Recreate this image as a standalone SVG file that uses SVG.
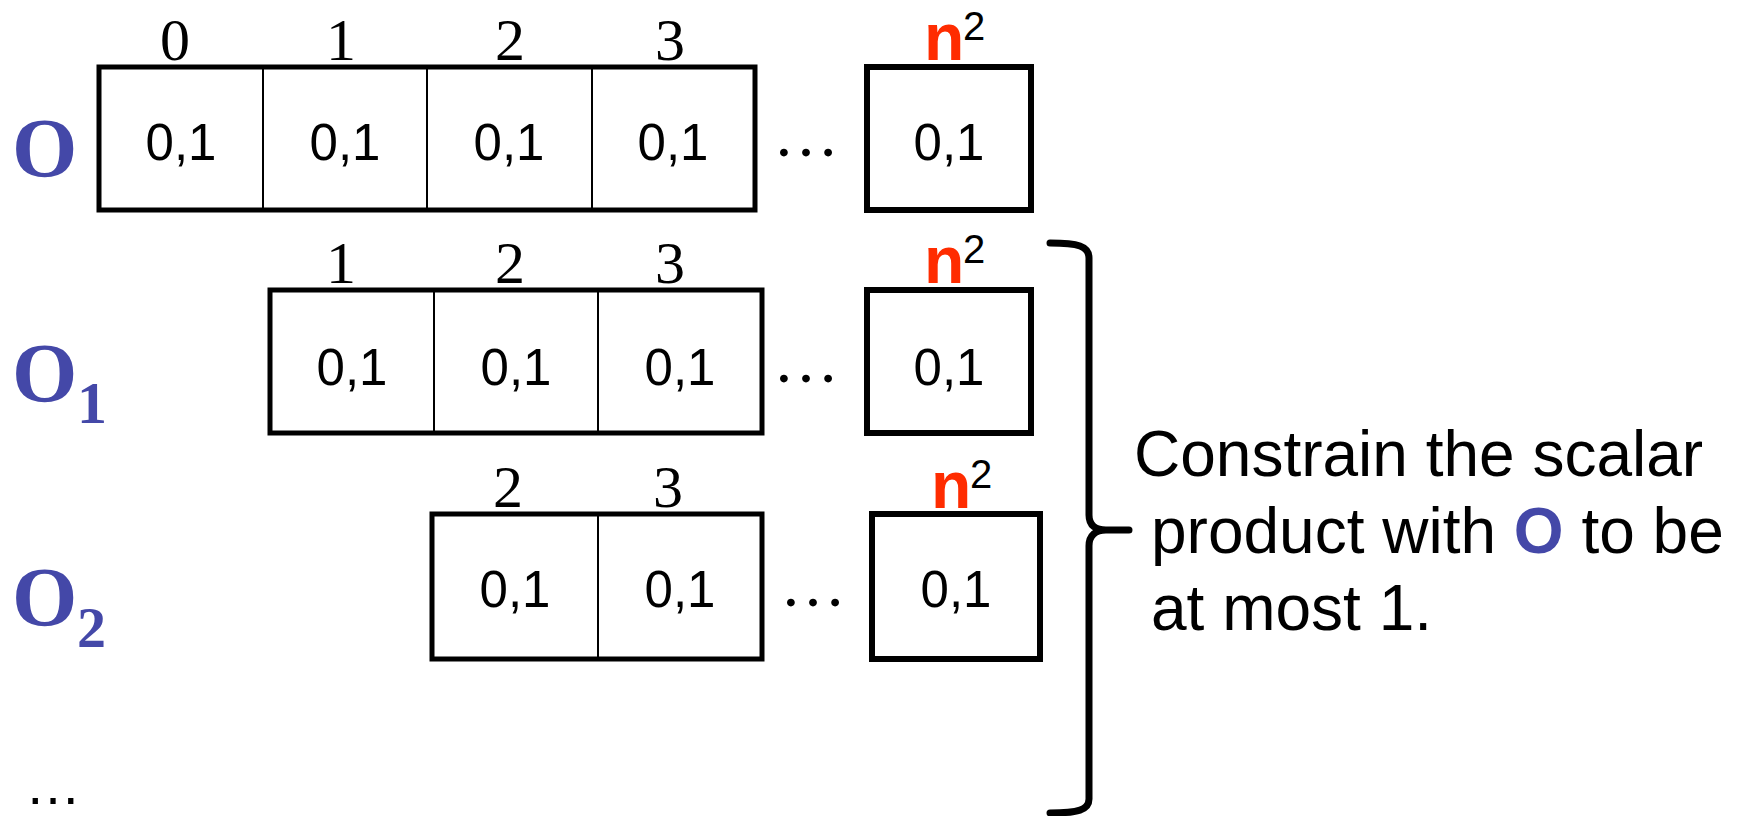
<svg xmlns="http://www.w3.org/2000/svg" width="1740" height="816" viewBox="0 0 1740 816">
  <style>
    .frame { fill: none; stroke: #000; stroke-width: 5; }
    .box { fill: none; stroke: #000; stroke-width: 6; }
    .div { stroke: #000; stroke-width: 2; }
    .val { font-family: "Liberation Sans", Arial, sans-serif; font-size: 51px; fill: #000; text-anchor: middle; }
    .idx { font-family: "Liberation Serif", "Times New Roman", serif; font-size: 60px; fill: #000; text-anchor: middle; }
    .dots { font-family: "Liberation Serif", "Times New Roman", serif; font-size: 66px; fill: #000; text-anchor: middle; }
    .n { font-family: "Liberation Sans", Arial, sans-serif; font-size: 66px; font-weight: bold; fill: #ff2c00; }
    .sup { font-family: "Liberation Sans", Arial, sans-serif; font-size: 40px; fill: #000; }
    .name { font-family: "Liberation Serif", "Times New Roman", serif; font-weight: bold; fill: #4448a8; }
    .note { font-family: "Liberation Sans", Arial, sans-serif; font-size: 64px; fill: #000; }
    .brace { fill: none; stroke: #000; stroke-width: 7; stroke-linecap: round; stroke-linejoin: round; }
  </style>

  <!-- vector O: indices 0..3 ... n^2 -->
  <g id="row-O">
    <text class="name" x="12" y="177" font-size="84">O</text>
    <text class="idx" x="175" y="60">0</text>
    <text class="idx" x="341" y="60">1</text>
    <text class="idx" x="510" y="60">2</text>
    <text class="idx" x="670" y="60">3</text>
    <text x="924" y="60"><tspan class="n">n</tspan><tspan class="sup" x="963" y="40">2</tspan></text>
    <rect class="frame" x="99" y="67" width="656" height="143"/>
    <line class="div" x1="263" y1="67" x2="263" y2="210"/>
    <line class="div" x1="427" y1="67" x2="427" y2="210"/>
    <line class="div" x1="592" y1="67" x2="592" y2="210"/>
    <text class="val" x="181" y="160">0,1</text>
    <text class="val" x="345" y="160">0,1</text>
    <text class="val" x="509" y="160">0,1</text>
    <text class="val" x="673" y="160">0,1</text>
    <text class="dots" x="806" y="156">…</text>
    <rect class="box" x="867" y="67" width="164" height="143"/>
    <text class="val" x="949" y="160">0,1</text>
  </g>

  <!-- shifted copy O1: indices 1..3 ... n^2 -->
  <g id="row-O1">
    <text class="name" x="12" y="402" font-size="84">O<tspan x="77" y="423" font-size="60">1</tspan></text>
    <text class="idx" x="341" y="283">1</text>
    <text class="idx" x="510" y="283">2</text>
    <text class="idx" x="670" y="283">3</text>
    <text x="924" y="283"><tspan class="n">n</tspan><tspan class="sup" x="963" y="263">2</tspan></text>
    <rect class="frame" x="270" y="290" width="492" height="143"/>
    <line class="div" x1="434" y1="290" x2="434" y2="433"/>
    <line class="div" x1="598" y1="290" x2="598" y2="433"/>
    <text class="val" x="352" y="385">0,1</text>
    <text class="val" x="516" y="385">0,1</text>
    <text class="val" x="680" y="385">0,1</text>
    <text class="dots" x="806" y="382">…</text>
    <rect class="box" x="867" y="290" width="164" height="143"/>
    <text class="val" x="949" y="385">0,1</text>
  </g>

  <!-- shifted copy O2: indices 2..3 ... n^2 -->
  <g id="row-O2">
    <text class="name" x="12" y="626" font-size="84">O<tspan x="77" y="647" font-size="58">2</tspan></text>
    <text class="idx" x="508" y="507">2</text>
    <text class="idx" x="668" y="507">3</text>
    <text x="931" y="508"><tspan class="n">n</tspan><tspan class="sup" x="970" y="488">2</tspan></text>
    <rect class="frame" x="432" y="514" width="330" height="145"/>
    <line class="div" x1="598" y1="514" x2="598" y2="659"/>
    <text class="val" x="515" y="607">0,1</text>
    <text class="val" x="680" y="607">0,1</text>
    <text class="dots" x="813" y="606">…</text>
    <rect class="box" x="872" y="514" width="168" height="145"/>
    <text class="val" x="956" y="607">0,1</text>
  </g>

  <g id="row-more">
    <text x="53" y="804" font-family="'Liberation Sans', Arial, sans-serif" font-size="56" text-anchor="middle">…</text>
  </g>

  <!-- curly brace grouping the shifted copies -->
  <g id="connectors">
    <path class="brace" d="M 1050 243 C 1078 243 1089 246 1089 258 L 1089 515 C 1089 526 1096 530 1106 530 L 1129 530 M 1106 530 C 1096 530 1089 535 1089 546 L 1089 799 C 1089 810 1078 813 1050 813"/>
  </g>

  <g id="note">
    <text class="note" x="1134" y="476">Constrain the scalar</text>
    <text class="note" x="1151" y="553">product with <tspan font-weight="bold" fill="#4448a8">O</tspan> to be</text>
    <text class="note" x="1151" y="630">at most 1.</text>
  </g>
</svg>
